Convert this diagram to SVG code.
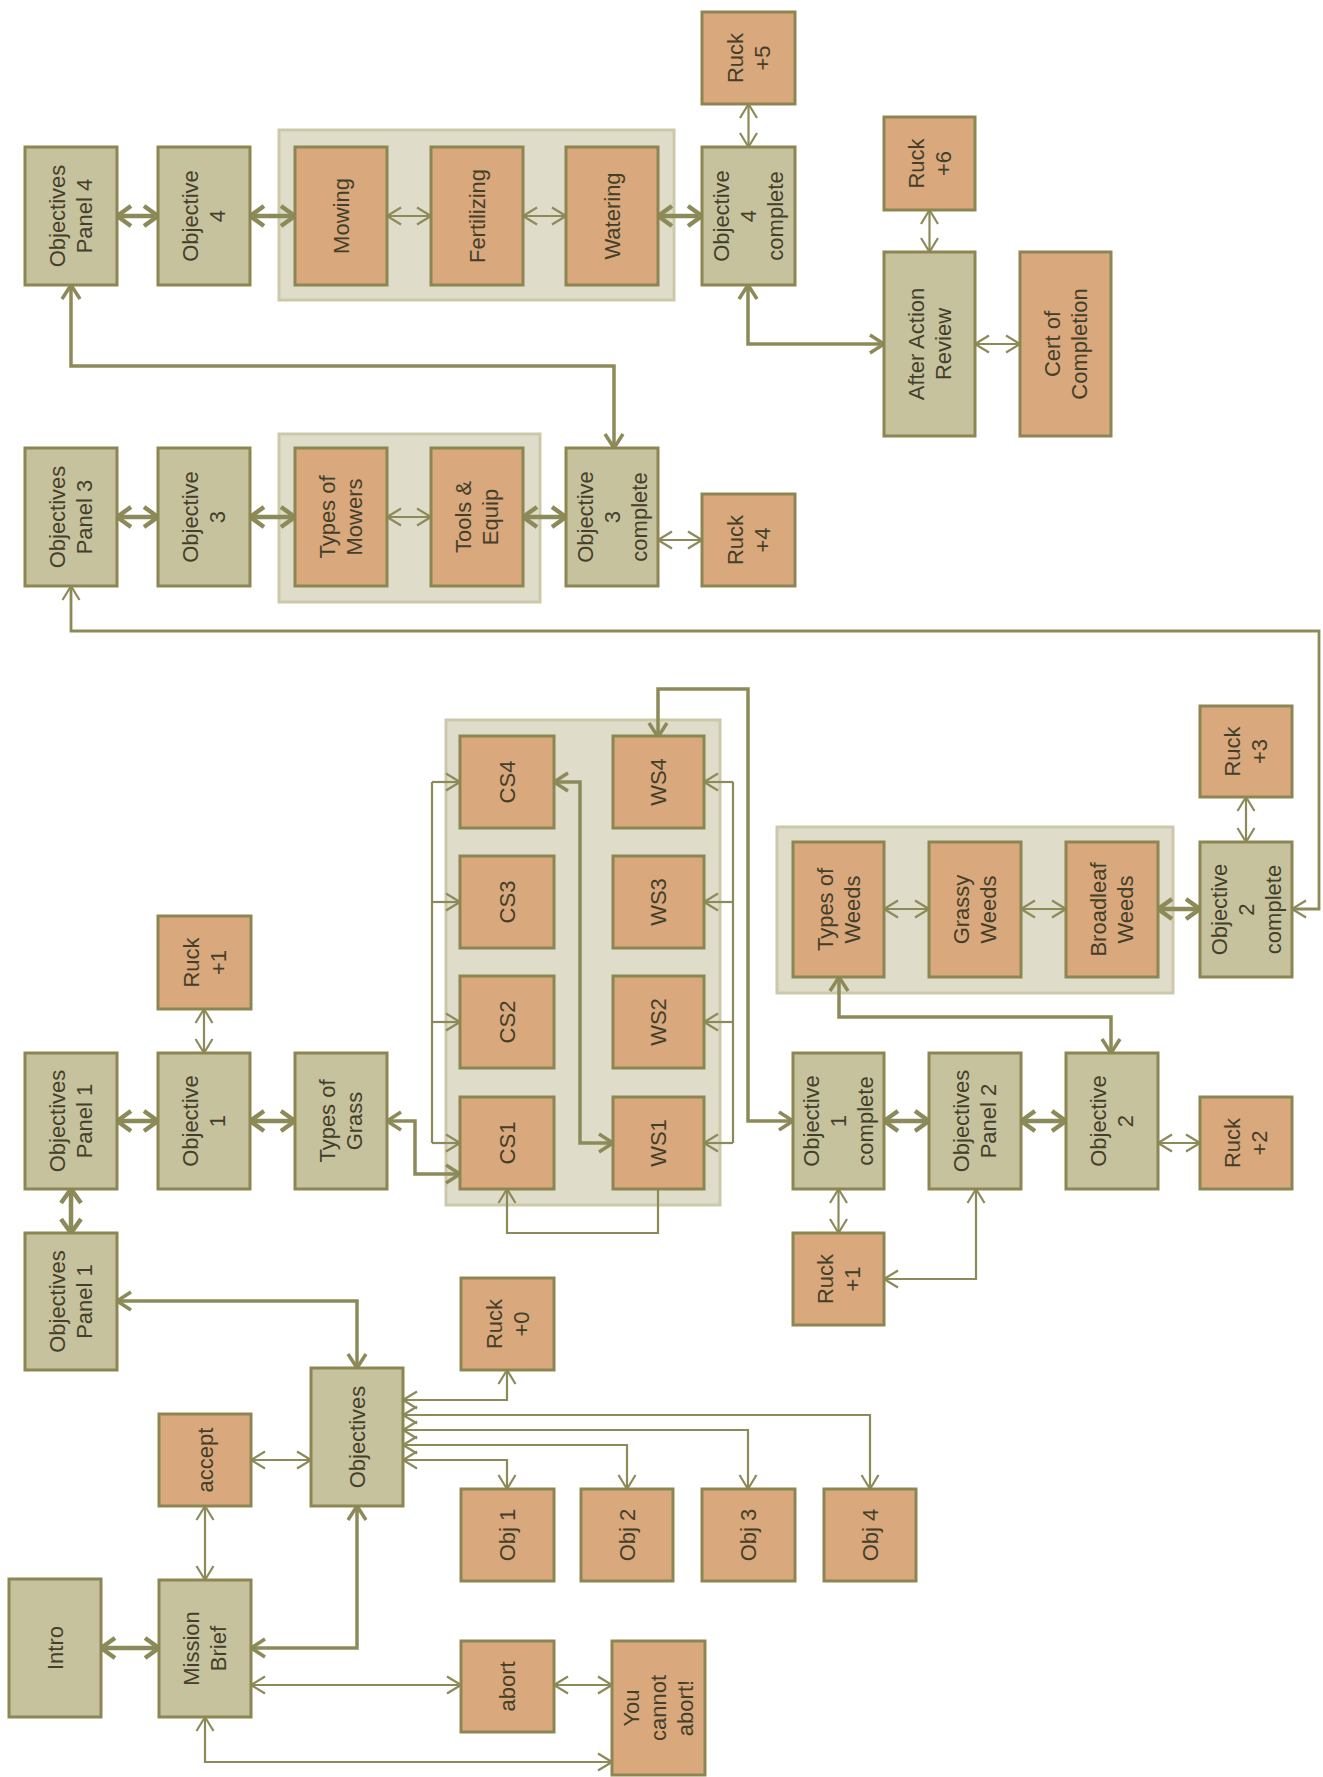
<svg xmlns="http://www.w3.org/2000/svg" width="1323" height="1777" viewBox="0 0 1323 1777">
<style>
.g{fill:#c7c29e;stroke:#8b8652;stroke-width:3}
.o{fill:#d9a87c;stroke:#8b8652;stroke-width:3}
.grp{fill:#dfddca;stroke:#ccc9aa;stroke-width:3}
.t{font-family:"Liberation Sans",Arial,sans-serif;font-size:22px;fill:#433f2a;text-anchor:middle}
.k{fill:none;stroke:#8d8a5a;stroke-width:4.5;marker-start:url(#ak);marker-end:url(#ak)}
.m{fill:none;stroke:#8d8a5a;stroke-width:3.5;marker-start:url(#am);marker-end:url(#am)}
.n{fill:none;stroke:#8d8a5a;stroke-width:2.2;marker-start:url(#an);marker-end:url(#an)}
.n1{fill:none;stroke:#8d8a5a;stroke-width:2.2;marker-end:url(#an)}
.b{fill:none;stroke:#8d8a5a;stroke-width:2.2}
</style>
<defs>
<marker id="ak" viewBox="0 0 18 24" refX="16" refY="12" markerWidth="18" markerHeight="24" markerUnits="userSpaceOnUse" orient="auto-start-reverse" overflow="visible"><path d="M2,2 L16,12 L2,22" fill="none" stroke="#8d8a5a" stroke-width="4.5" stroke-linejoin="round"/></marker>
<marker id="am" viewBox="0 0 18 22" refX="16" refY="11" markerWidth="18" markerHeight="22" markerUnits="userSpaceOnUse" orient="auto-start-reverse" overflow="visible"><path d="M2,2 L16,11 L2,20" fill="none" stroke="#8d8a5a" stroke-width="3.5" stroke-linejoin="round"/></marker>
<marker id="an" viewBox="0 0 18 20" refX="16" refY="10" markerWidth="18" markerHeight="20" markerUnits="userSpaceOnUse" orient="auto-start-reverse" overflow="visible"><path d="M2,1.5 L16,10 L2,18.5" fill="none" stroke="#8d8a5a" stroke-width="2.2" stroke-linejoin="round"/></marker>
</defs>
<rect width="1323" height="1777" fill="#ffffff"/>

<g id="groups">
<rect id="grp-obj4" class="grp" x="279" y="130" width="395" height="170"/>
<rect id="grp-obj3" class="grp" x="279" y="434" width="261" height="168"/>
<rect id="grp-scen" class="grp" x="446" y="720" width="274" height="485"/>
<rect id="grp-weeds" class="grp" x="777" y="827" width="396" height="166"/>
</g>

<g id="connectors">
<path class="k" d="M117,216 H158"/>
<path class="k" d="M250,216 H295"/>
<path class="k" d="M658,216 H702"/>
<path class="k" d="M117,517 H158"/>
<path class="k" d="M250,517 H295"/>
<path class="k" d="M523,517 H566"/>
<path class="k" d="M117,1121 H158"/>
<path class="k" d="M250,1121 H295"/>
<path class="k" d="M71,1189 V1233"/>
<path class="k" d="M1158,909 H1200"/>
<path class="k" d="M884,1121 H929"/>
<path class="k" d="M1021,1121 H1066"/>
<path class="k" d="M101,1648 H159"/>

<path class="m" d="M387,1121 H415 V1174 H460"/>
<path class="m" d="M71,285 V366 H614 V448"/>
<path class="m" d="M748,285 V344 H884"/>
<path class="m" d="M839,977 V1017 H1111 V1053"/>
<path class="m" d="M117,1301 H357 V1368"/>
<path class="m" d="M357,1506 V1648 H251"/>
<path class="m" d="M658,737 V689 H748 V1121 H793"/>
<path class="m" d="M554,782 H580 V1143 H613"/>

<path class="n" d="M387,216 H431"/>
<path class="n" d="M523,216 H566"/>
<path class="n" d="M387,517 H431"/>
<path class="n" d="M658,540 H702"/>
<path class="n" d="M748.5,104 V147"/>
<path class="n" d="M929.5,210 V252"/>
<path class="n" d="M975,344 H1020"/>
<path class="n" d="M204,1009 V1053"/>
<path class="n" d="M884,909 H929"/>
<path class="n" d="M1021,909 H1066"/>
<path class="n" d="M1246,797 V842"/>
<path class="n" d="M1158,1143 H1200"/>
<path class="n" d="M838.5,1189 V1233"/>
<path class="n" d="M251,1460 H311"/>
<path class="n" d="M205,1506 V1580"/>
<path class="n" d="M251,1685 H461"/>
<path class="n" d="M554,1685 H612"/>
<path class="n" d="M205,1717 V1762 H612"/>
<path class="n" d="M71,586 V631 H1319 V909 H1292" style="stroke-width:2.8"/>
<path class="n" d="M976,1189 V1279 H884"/>
<path class="n" d="M403,1400 H507 V1370"/>
<path class="n" d="M403,1415 H870 V1489"/>
<path class="n" d="M403,1430 H748 V1489"/>
<path class="n" d="M403,1445 H627 V1489"/>
<path class="n" d="M403,1460 H507 V1489"/>
<path class="n1" d="M658,1189 V1233 H507 V1189"/>

<path class="b" d="M432,782 V1143"/>
<path class="n1" d="M432,782 H460"/>
<path class="n1" d="M432,902 H460"/>
<path class="n1" d="M432,1022 H460"/>
<path class="n1" d="M432,1143 H460"/>
<path class="b" d="M733,782 V1143"/>
<path class="n1" d="M733,782 H704"/>
<path class="n1" d="M733,902 H704"/>
<path class="n1" d="M733,1022 H704"/>
<path class="n1" d="M733,1143 H704"/>
</g>

<g id="op4"><rect class="g" x="25" y="147" width="92" height="138"/><text class="t" transform="translate(71,216) rotate(-90)"><tspan x="0" y="-6">Objectives</tspan><tspan x="0" y="21">Panel 4</tspan></text></g>
<g id="obj4"><rect class="g" x="158" y="147" width="92" height="138"/><text class="t" transform="translate(204,216) rotate(-90)"><tspan x="0" y="-6">Objective</tspan><tspan x="0" y="21">4</tspan></text></g>
<g id="mowing"><rect class="o" x="295" y="147" width="92" height="138"/><text class="t" transform="translate(341,216) rotate(-90)"><tspan x="0" y="7.5">Mowing</tspan></text></g>
<g id="fertilizing"><rect class="o" x="431" y="147" width="92" height="138"/><text class="t" transform="translate(477,216) rotate(-90)"><tspan x="0" y="7.5">Fertilizing</tspan></text></g>
<g id="watering"><rect class="o" x="566" y="147" width="92" height="138"/><text class="t" transform="translate(612,216) rotate(-90)"><tspan x="0" y="7.5">Watering</tspan></text></g>
<g id="obj4c"><rect class="g" x="702" y="147" width="93" height="138"/><text class="t" transform="translate(748.5,216) rotate(-90)"><tspan x="0" y="-19.5">Objective</tspan><tspan x="0" y="7.5">4</tspan><tspan x="0" y="34.5">complete</tspan></text></g>
<g id="ruck5"><rect class="o" x="702" y="12" width="93" height="92"/><text class="t" transform="translate(748.5,58) rotate(-90)"><tspan x="0" y="-6">Ruck</tspan><tspan x="0" y="21">+5</tspan></text></g>
<g id="ruck6"><rect class="o" x="884" y="117" width="91" height="93"/><text class="t" transform="translate(929.5,163.5) rotate(-90)"><tspan x="0" y="-6">Ruck</tspan><tspan x="0" y="21">+6</tspan></text></g>
<g id="aar"><rect class="g" x="884" y="252" width="91" height="184"/><text class="t" transform="translate(929.5,344) rotate(-90)"><tspan x="0" y="-6">After Action</tspan><tspan x="0" y="21">Review</tspan></text></g>
<g id="cert"><rect class="o" x="1020" y="252" width="91" height="184"/><text class="t" transform="translate(1065.5,344) rotate(-90)"><tspan x="0" y="-6">Cert of</tspan><tspan x="0" y="21">Completion</tspan></text></g>

<g id="op3"><rect class="g" x="25" y="448" width="92" height="138"/><text class="t" transform="translate(71,517) rotate(-90)"><tspan x="0" y="-6">Objectives</tspan><tspan x="0" y="21">Panel 3</tspan></text></g>
<g id="obj3"><rect class="g" x="158" y="448" width="92" height="138"/><text class="t" transform="translate(204,517) rotate(-90)"><tspan x="0" y="-6">Objective</tspan><tspan x="0" y="21">3</tspan></text></g>
<g id="mowers"><rect class="o" x="295" y="448" width="92" height="138"/><text class="t" transform="translate(341,517) rotate(-90)"><tspan x="0" y="-6">Types of</tspan><tspan x="0" y="21">Mowers</tspan></text></g>
<g id="tools"><rect class="o" x="431" y="448" width="92" height="138"/><text class="t" transform="translate(477,517) rotate(-90)"><tspan x="0" y="-6">Tools &amp;</tspan><tspan x="0" y="21">Equip</tspan></text></g>
<g id="obj3c"><rect class="g" x="566" y="448" width="92" height="138"/><text class="t" transform="translate(612,517) rotate(-90)"><tspan x="0" y="-19.5">Objective</tspan><tspan x="0" y="7.5">3</tspan><tspan x="0" y="34.5">complete</tspan></text></g>
<g id="ruck4"><rect class="o" x="702" y="494" width="93" height="92"/><text class="t" transform="translate(748.5,540) rotate(-90)"><tspan x="0" y="-6">Ruck</tspan><tspan x="0" y="21">+4</tspan></text></g>

<g id="ruck1a"><rect class="o" x="158" y="916" width="93" height="93"/><text class="t" transform="translate(204.5,962.5) rotate(-90)"><tspan x="0" y="-6">Ruck</tspan><tspan x="0" y="21">+1</tspan></text></g>
<g id="op1a"><rect class="g" x="25" y="1053" width="92" height="136"/><text class="t" transform="translate(71,1121) rotate(-90)"><tspan x="0" y="-6">Objectives</tspan><tspan x="0" y="21">Panel 1</tspan></text></g>
<g id="obj1"><rect class="g" x="158" y="1053" width="92" height="136"/><text class="t" transform="translate(204,1121) rotate(-90)"><tspan x="0" y="-6">Objective</tspan><tspan x="0" y="21">1</tspan></text></g>
<g id="grass"><rect class="g" x="295" y="1053" width="92" height="136"/><text class="t" transform="translate(341,1121) rotate(-90)"><tspan x="0" y="-6">Types of</tspan><tspan x="0" y="21">Grass</tspan></text></g>

<g id="cs4"><rect class="o" x="460" y="736" width="94" height="92"/><text class="t" transform="translate(507,782) rotate(-90)"><tspan x="0" y="7.5">CS4</tspan></text></g>
<g id="cs3"><rect class="o" x="460" y="856" width="94" height="92"/><text class="t" transform="translate(507,902) rotate(-90)"><tspan x="0" y="7.5">CS3</tspan></text></g>
<g id="cs2"><rect class="o" x="460" y="976" width="94" height="92"/><text class="t" transform="translate(507,1022) rotate(-90)"><tspan x="0" y="7.5">CS2</tspan></text></g>
<g id="cs1"><rect class="o" x="460" y="1097" width="94" height="92"/><text class="t" transform="translate(507,1143) rotate(-90)"><tspan x="0" y="7.5">CS1</tspan></text></g>
<g id="ws4"><rect class="o" x="613" y="736" width="91" height="92"/><text class="t" transform="translate(658.5,782) rotate(-90)"><tspan x="0" y="7.5">WS4</tspan></text></g>
<g id="ws3"><rect class="o" x="613" y="856" width="91" height="92"/><text class="t" transform="translate(658.5,902) rotate(-90)"><tspan x="0" y="7.5">WS3</tspan></text></g>
<g id="ws2"><rect class="o" x="613" y="976" width="91" height="92"/><text class="t" transform="translate(658.5,1022) rotate(-90)"><tspan x="0" y="7.5">WS2</tspan></text></g>
<g id="ws1"><rect class="o" x="613" y="1097" width="91" height="92"/><text class="t" transform="translate(658.5,1143) rotate(-90)"><tspan x="0" y="7.5">WS1</tspan></text></g>

<g id="weeds"><rect class="o" x="793" y="842" width="91" height="135"/><text class="t" transform="translate(838.5,909.5) rotate(-90)"><tspan x="0" y="-6">Types of</tspan><tspan x="0" y="21">Weeds</tspan></text></g>
<g id="grassy"><rect class="o" x="929" y="842" width="92" height="135"/><text class="t" transform="translate(975,909.5) rotate(-90)"><tspan x="0" y="-6">Grassy</tspan><tspan x="0" y="21">Weeds</tspan></text></g>
<g id="broadleaf"><rect class="o" x="1066" y="842" width="92" height="135"/><text class="t" transform="translate(1112,909.5) rotate(-90)"><tspan x="0" y="-6">Broadleaf</tspan><tspan x="0" y="21">Weeds</tspan></text></g>
<g id="obj2c"><rect class="g" x="1200" y="842" width="92" height="135"/><text class="t" transform="translate(1246,909.5) rotate(-90)"><tspan x="0" y="-19.5">Objective</tspan><tspan x="0" y="7.5">2</tspan><tspan x="0" y="34.5">complete</tspan></text></g>
<g id="ruck3"><rect class="o" x="1200" y="706" width="92" height="91"/><text class="t" transform="translate(1246,751.5) rotate(-90)"><tspan x="0" y="-6">Ruck</tspan><tspan x="0" y="21">+3</tspan></text></g>

<g id="obj1c"><rect class="g" x="793" y="1053" width="91" height="136"/><text class="t" transform="translate(838.5,1121) rotate(-90)"><tspan x="0" y="-19.5">Objective</tspan><tspan x="0" y="7.5">1</tspan><tspan x="0" y="34.5">complete</tspan></text></g>
<g id="op2"><rect class="g" x="929" y="1053" width="92" height="136"/><text class="t" transform="translate(975,1121) rotate(-90)"><tspan x="0" y="-6">Objectives</tspan><tspan x="0" y="21">Panel 2</tspan></text></g>
<g id="obj2"><rect class="g" x="1066" y="1053" width="92" height="136"/><text class="t" transform="translate(1112,1121) rotate(-90)"><tspan x="0" y="-6">Objective</tspan><tspan x="0" y="21">2</tspan></text></g>
<g id="ruck2"><rect class="o" x="1200" y="1097" width="92" height="92"/><text class="t" transform="translate(1246,1143) rotate(-90)"><tspan x="0" y="-6">Ruck</tspan><tspan x="0" y="21">+2</tspan></text></g>
<g id="ruck1b"><rect class="o" x="793" y="1233" width="91" height="92"/><text class="t" transform="translate(838.5,1279) rotate(-90)"><tspan x="0" y="-6">Ruck</tspan><tspan x="0" y="21">+1</tspan></text></g>

<g id="op1b"><rect class="g" x="25" y="1233" width="92" height="137"/><text class="t" transform="translate(71,1301.5) rotate(-90)"><tspan x="0" y="-6">Objectives</tspan><tspan x="0" y="21">Panel 1</tspan></text></g>
<g id="ruck0"><rect class="o" x="461" y="1278" width="93" height="92"/><text class="t" transform="translate(507.5,1324) rotate(-90)"><tspan x="0" y="-6">Ruck</tspan><tspan x="0" y="21">+0</tspan></text></g>
<g id="objectives"><rect class="g" x="311" y="1368" width="92" height="138"/><text class="t" transform="translate(357,1437) rotate(-90)"><tspan x="0" y="7.5">Objectives</tspan></text></g>
<g id="accept"><rect class="o" x="159" y="1414" width="92" height="92"/><text class="t" transform="translate(205,1460) rotate(-90)"><tspan x="0" y="7.5">accept</tspan></text></g>
<g id="objbox1"><rect class="o" x="461" y="1489" width="93" height="92"/><text class="t" transform="translate(507.5,1535) rotate(-90)"><tspan x="0" y="7.5">Obj 1</tspan></text></g>
<g id="objbox2"><rect class="o" x="581" y="1489" width="92" height="92"/><text class="t" transform="translate(627,1535) rotate(-90)"><tspan x="0" y="7.5">Obj 2</tspan></text></g>
<g id="objbox3"><rect class="o" x="702" y="1489" width="93" height="92"/><text class="t" transform="translate(748.5,1535) rotate(-90)"><tspan x="0" y="7.5">Obj 3</tspan></text></g>
<g id="objbox4"><rect class="o" x="824" y="1489" width="92" height="92"/><text class="t" transform="translate(870,1535) rotate(-90)"><tspan x="0" y="7.5">Obj 4</tspan></text></g>
<g id="intro"><rect class="g" x="9" y="1579" width="92" height="138"/><text class="t" transform="translate(55,1648) rotate(-90)"><tspan x="0" y="7.5">Intro</tspan></text></g>
<g id="mission"><rect class="g" x="159" y="1580" width="92" height="137"/><text class="t" transform="translate(205,1648.5) rotate(-90)"><tspan x="0" y="-6">Mission</tspan><tspan x="0" y="21">Brief</tspan></text></g>
<g id="abort"><rect class="o" x="461" y="1641" width="93" height="91"/><text class="t" transform="translate(507.5,1686.5) rotate(-90)"><tspan x="0" y="7.5">abort</tspan></text></g>
<g id="cannot"><rect class="o" x="612" y="1641" width="93" height="134"/><text class="t" transform="translate(658.5,1708) rotate(-90)"><tspan x="0" y="-19.5">You</tspan><tspan x="0" y="7.5">cannot</tspan><tspan x="0" y="34.5">abort!</tspan></text></g>
</svg>
